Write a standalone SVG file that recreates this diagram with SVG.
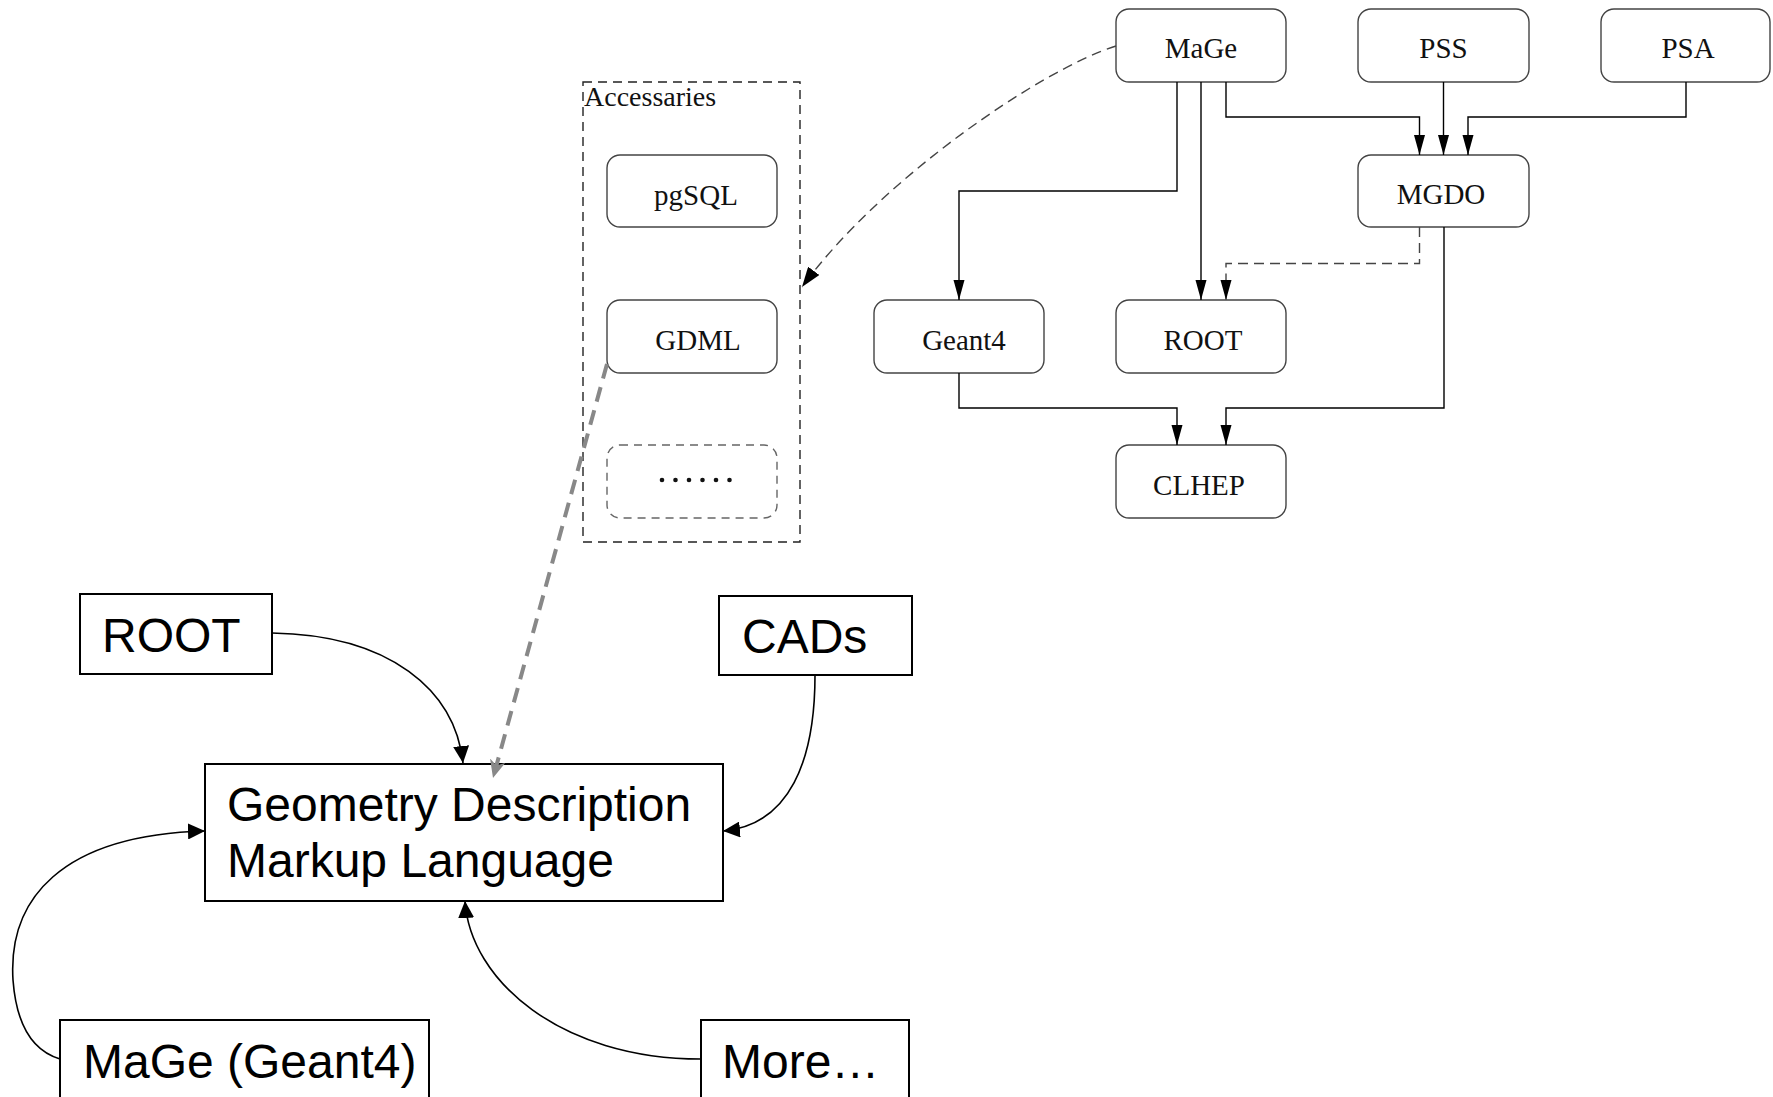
<svg xmlns="http://www.w3.org/2000/svg" width="1773" height="1097" viewBox="0 0 1773 1097">
<style>
.nb{fill:#fff;stroke:#444;stroke-width:1.4}
.st{font-family:"Liberation Serif","Times New Roman",serif;font-size:29px;fill:#111;text-anchor:middle}
.bb{fill:#fff;stroke:#000;stroke-width:2}
.bt{font-family:"Liberation Sans",Arial,sans-serif;font-size:48px;fill:#000}
.c{fill:none;stroke:#000;stroke-width:1.4}
.cd{fill:none;stroke:#444;stroke-width:1.4;stroke-dasharray:10 6}
.cb{fill:none;stroke:#000;stroke-width:1.6}
</style>
<defs>
<marker id="a" markerUnits="userSpaceOnUse" markerWidth="20" markerHeight="12" refX="20" refY="6" orient="auto" viewBox="0 0 20 12"><path d="M0,0.5 L20,6 L0,11.5 z" fill="#000"/></marker>
<marker id="ad" markerUnits="userSpaceOnUse" markerWidth="20" markerHeight="14" refX="20" refY="7" orient="auto" viewBox="0 0 20 14"><path d="M0,0 L20,7 L0,14 z" fill="#000"/></marker>
<marker id="ab" markerUnits="userSpaceOnUse" markerWidth="17" markerHeight="16" refX="17" refY="8" orient="auto" viewBox="0 0 17 16"><path d="M0,0 L17,8 L0,16 z" fill="#000"/></marker>
<marker id="ag" markerUnits="userSpaceOnUse" markerWidth="18" markerHeight="16" refX="18" refY="8" orient="auto" viewBox="0 0 18 16"><path d="M0,0 L18,8 L0,16 L5,8 z" fill="#888"/></marker>
</defs>

<g id="accessaries">
<rect x="583" y="82" width="217" height="460" fill="none" stroke="#222" stroke-width="1.4" stroke-dasharray="9 6"/>
<text x="584" y="106" font-family="Liberation Serif,'Times New Roman',serif" font-size="28" fill="#111">Accessaries</text>
</g>

<g id="mage"><rect class="nb" x="1116" y="9" width="170" height="73" rx="13"/><text class="st" x="1201" y="58">MaGe</text></g>
<g id="pss"><rect class="nb" x="1358" y="9" width="171" height="73" rx="13"/><text class="st" x="1443.5" y="58">PSS</text></g>
<g id="psa"><rect class="nb" x="1601" y="9" width="169" height="73" rx="13"/><text class="st" x="1688" y="58">PSA</text></g>
<g id="mgdo"><rect class="nb" x="1358" y="155" width="171" height="72" rx="13"/><text class="st" x="1441" y="204">MGDO</text></g>
<g id="geant4"><rect class="nb" x="874" y="300" width="170" height="73" rx="13"/><text class="st" x="964" y="350">Geant4</text></g>
<g id="root-top"><rect class="nb" x="1116" y="300" width="170" height="73" rx="13"/><text class="st" x="1203" y="350">ROOT</text></g>
<g id="clhep"><rect class="nb" x="1116" y="445" width="170" height="73" rx="13"/><text class="st" x="1199" y="495">CLHEP</text></g>
<g id="pgsql"><rect class="nb" x="607" y="155" width="170" height="72" rx="13"/><text class="st" x="696" y="205">pgSQL</text></g>
<g id="gdml-small"><rect class="nb" x="607" y="300" width="170" height="73" rx="13"/><text class="st" x="698" y="350">GDML</text></g>
<g id="more-acc"><rect x="607" y="445" width="170" height="73" rx="13" fill="#fff" stroke="#666" stroke-width="1.4" stroke-dasharray="8 6"/>
<g fill="#111"><circle cx="662" cy="480" r="2.3"/><circle cx="675.5" cy="480" r="2.3"/><circle cx="689" cy="480" r="2.3"/><circle cx="702.5" cy="480" r="2.3"/><circle cx="716" cy="480" r="2.3"/><circle cx="729.5" cy="480" r="2.3"/></g></g>

<g id="root"><rect class="bb" x="80" y="594" width="192" height="80"/><text class="bt" x="102" y="652">ROOT</text></g>
<g id="cads"><rect class="bb" x="719" y="596" width="193" height="79"/><text class="bt" x="742" y="653">CADs</text></g>
<g id="gdml"><rect class="bb" x="205" y="764" width="518" height="137"/><text class="bt" x="227" y="821">Geometry Description</text><text class="bt" x="227" y="877">Markup Language</text></g>
<g id="mage-geant4"><rect class="bb" x="60" y="1020" width="369" height="100"/><text class="bt" x="83" y="1078">MaGe (Geant4)</text></g>
<g id="more"><rect class="bb" x="701" y="1020" width="208" height="100"/><text class="bt" x="722" y="1078">More…</text></g>

<g id="connectors">
<path class="c" d="M1177,82 V191 H959 V300" marker-end="url(#a)"/>
<path class="c" d="M1201,82 V300" marker-end="url(#a)"/>
<path class="c" d="M1226,82 V117 H1419.5 V155" marker-end="url(#a)"/>
<path class="c" d="M1443.5,82 V155" marker-end="url(#a)"/>
<path class="c" d="M1686,82 V117 H1468 V155" marker-end="url(#a)"/>
<path class="cd" d="M1419.5,227 V263.5 H1226 V300" marker-end="url(#a)"/>
<path class="c" d="M1444,227 V408 H1226 V445" marker-end="url(#a)"/>
<path class="c" d="M959,373 V408 H1177 V445" marker-end="url(#a)"/>
<path class="cd" d="M1116,46 C1040,70 880,180 802,287" marker-end="url(#ad)"/>
<path d="M607,364 L493,778" fill="none" stroke="#888" stroke-width="4" stroke-dasharray="15 9" marker-end="url(#ag)"/>
<path class="cb" d="M272,633 C390,635 455,690 463,763" marker-end="url(#ab)"/>
<path class="cb" d="M815,675 C815,760 790,825 723,831" marker-end="url(#ab)"/>
<path class="cb" d="M60,1059 C30,1050 16,1020 13,980 C8,900 60,835 205,831" marker-end="url(#ab)"/>
<path class="cb" d="M701,1059 C560,1059 470,980 465,901" marker-end="url(#ab)"/>
</g>
</svg>
